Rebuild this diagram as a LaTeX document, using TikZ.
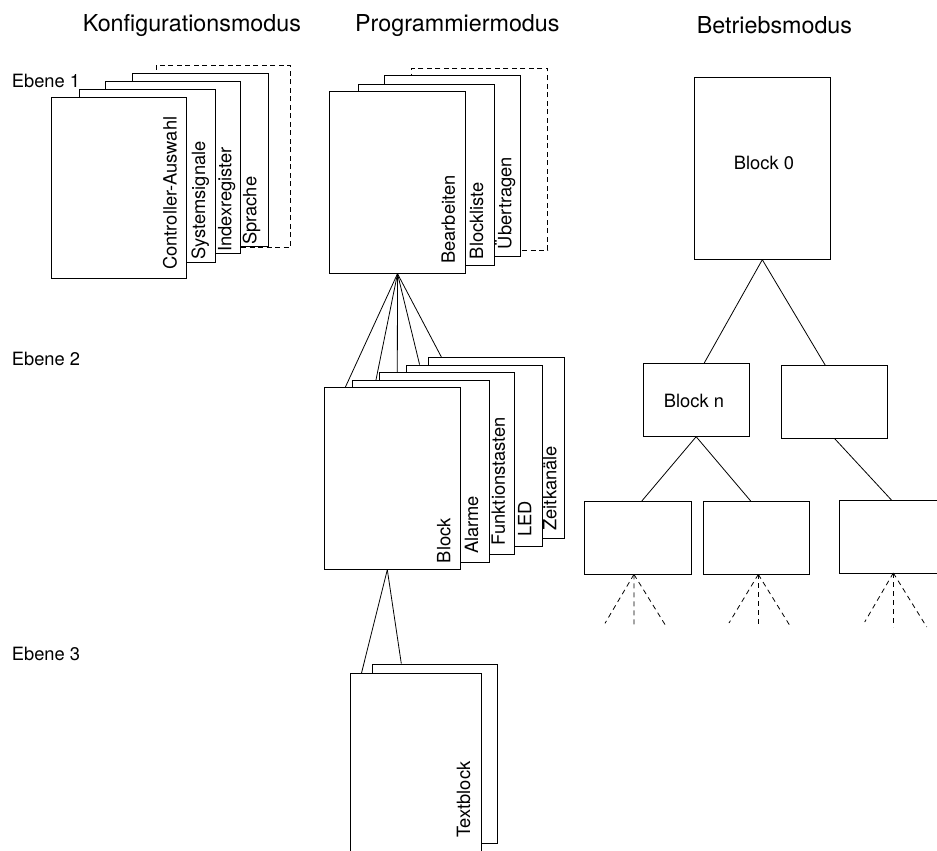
\documentclass[tikz,border=0pt]{standalone}
\usepackage{fontspec}
\setmainfont{TeX Gyre Heros}
\usetikzlibrary{fit,calc}
\begin{document}
\begin{tikzpicture}[x=1pt,y=-1pt,
  card/.style={draw=black, fill=white, line width=0.8pt, inner sep=0pt},
  opencard/.style={draw=none, fill=white, inner sep=0pt},
  dcard/.style={card, dash pattern=on 5pt off 3.5pt},
  lbl/.style={font=\fontsize{18.3}{22}\selectfont, inner sep=0pt, rotate=90, anchor=base west},
  txt/.style={font=\fontsize{18.3}{22}\selectfont, inner sep=0pt},
  lvl/.style={font=\fontsize{18.3}{22}\selectfont, inner sep=0pt, anchor=base west},
  ttl/.style={font=\fontsize{23.3}{28}\selectfont, inner sep=0pt, anchor=base west},
  conn/.style={line width=0.8pt, draw=black},
  dconn/.style={conn, dash pattern=on 5pt off 4pt}]
\useasboundingbox (0,0) rectangle (937,851);

% titles
\node[ttl] (t-konf) at (82.7,31.7) {Konfigurationsmodus};
\node[ttl] (t-prog) at (355,31.7) {Programmiermodus};
\node[ttl] (t-betr) at (696.7,33.3) {Betriebsmodus};

% level labels
\node[lvl] (ebene1) at (11.7,88) {Ebene 1};
\node[lvl] (ebene2) at (11.7,365) {Ebene 2};
\node[lvl] (ebene3) at (11.7,660) {Ebene 3};

% Konfigurationsmodus stack
\node[dcard, fit={(156,65.7) (290.7,247)}] (kd) {};
\node[card, fit={(132.7,73.3) (268.7,246)}] (k4) {};
\node[card, fit={(105,81) (240.7,253.3)}] (k3) {};
\node[card, fit={(79.3,89.3) (215,262.3)}] (k2) {};
\node[card, fit={(51,97.3) (186.7,278.3)}] (k1) {};
\node[lbl] (lk1) at (176.7,270) {Controller-Auswahl};
\node[lbl] (lk2) at (205,260) {Systemsignale};
\node[lbl] (lk3) at (231.4,252) {Indexregister};
\node[lbl] (lk4) at (256.4,245) {Sprache};

% Programmiermodus stack
\node[dcard, fit={(411.7,68.3) (547.7,250)}] (pd) {};
\node[card, fit={(384,75.7) (520,256.7)}] (p3) {};
\node[card, fit={(358.3,84) (494,265)}] (p2) {};
\node[card, fit={(329.3,91.7) (465.7,273.3)}] (p1) {};
\node[lbl] (lp1) at (454.8,264) {Bearbeiten};
\node[lbl] (lp2) at (483,259.3) {Blockliste};
\node[lbl] (lp3) at (511.4,249.3) {Übertragen};

% Ebene 2 stack
\node[card, fit={(428.3,357.3) (564.3,538.3)}] (e5) {};
\node[card, fit={(406.7,365) (542.3,546)}] (e4) {};
\node[card, fit={(379,372.7) (514.3,554)}] (e3) {};
\node[card, fit={(352.7,380.7) (489,562.7)}] (e2) {};
\node[card, fit={(324.3,387.7) (460.3,569.3)}] (e1) {};
\node[lbl] (le1) at (450.4,563.3) {Block};
\node[lbl] (le2) at (478,554) {Alarme};
\node[lbl] (le3) at (504.8,545.3) {Funktionstasten};
\node[lbl] (le4) at (531.4,536.7) {LED};
\node[lbl] (le5) at (556.4,530.7) {Zeitkanäle};

\draw[conn] (p1.south) -- ($(e1.north west)+(21.4,0)$);
\draw[conn] (p1.south) -- ($(e2.north west)+(23.6,0)$);
\draw[conn] (p1.south) -- ($(e3.north west)+(18.7,0)$);
\draw[conn] (p1.south) -- ($(e4.north west)+(13.3,0)$);
\draw[conn] (p1.south) -- ($(e5.north west)+(13.4,0)$);

% Ebene 3 stack
\node[card, fit={(372.7,664) (497,843)}] (t2) {};
\node[opencard, fit={(351,673.3) (481,851)}] (t1) {};
\draw[conn] (t1.south west) -- (t1.north west) -- (t1.north east) -- (t1.south east);
\node[lbl] (lt1) at (470,838) {Textblock};
\coordinate (e1apex) at ($(e1.south)+(-5,0)$);
\draw[conn] (e1apex) -- ($(t1.north west)+(10.7,0)$);
\draw[conn] (e1apex) -- ($(t2.north west)+(29,0)$);

% Betriebsmodus tree
\node[card, fit={(694.3,77.3) (830.3,259.3)}] (b0) {};
\node[txt] (b0l) at (764,163) {Block 0};
\node[card, fit={(643,363.3) (749.3,436.3)}] (bn) {};
\node[txt] (bnl) at (694,401) {Block n};
\node[card, fit={(781.7,365.7) (887.7,438.3)}] (br1) {};
\node[card, fit={(584.7,501.3) (691,574)}] (bl) {};
\node[card, fit={(703.3,501.3) (809.3,574)}] (bm) {};
\node[opencard, fit={(839.3,500.3) (937,573)}] (brr) {};
\draw[conn] (brr.north east) -- (brr.north west) -- (brr.south west) -- (brr.south east);

\draw[conn] (b0.south) -- ($(bn.north west)+(61.7,0)$);
\draw[conn] (b0.south) -- ($(br1.north west)+(44,0)$);
\draw[conn] (bn.south) -- ($(bl.north west)+(57.6,0)$);
\draw[conn] (bn.south) -- ($(bm.north west)+(47.7,0)$);
\draw[conn] (br1.south) -- ($(brr.north west)+(52.4,0)$);

% dashed fans
\coordinate (la) at ($(bl.south)+(-3.9,0)$);
\coordinate (lf1) at (605,623.3);
\coordinate (lf2) at (634,627.3);
\coordinate (lf3) at (666.7,627.3);
\draw[dconn] (la) -- (lf1);
\draw[dconn] (la) -- (lf2);
\draw[dconn] (la) -- (lf3);

\coordinate (ma) at ($(bm.south)+(2,0)$);
\coordinate (mf1) at (729,623);
\coordinate (mf2) at (758.3,627);
\coordinate (mf3) at (790.7,627);
\draw[dconn] (ma) -- (mf1);
\draw[dconn] (ma) -- (mf2);
\draw[dconn] (ma) -- (mf3);

\coordinate (ra) at (893.3,573);
\coordinate (rf1) at (864.7,622);
\coordinate (rf2) at (893.3,627);
\coordinate (rf3) at (926.7,627);
\draw[dconn] (ra) -- (rf1);
\draw[dconn] (ra) -- (rf2);
\draw[dconn] (ra) -- (rf3);
\end{tikzpicture}
\end{document}
